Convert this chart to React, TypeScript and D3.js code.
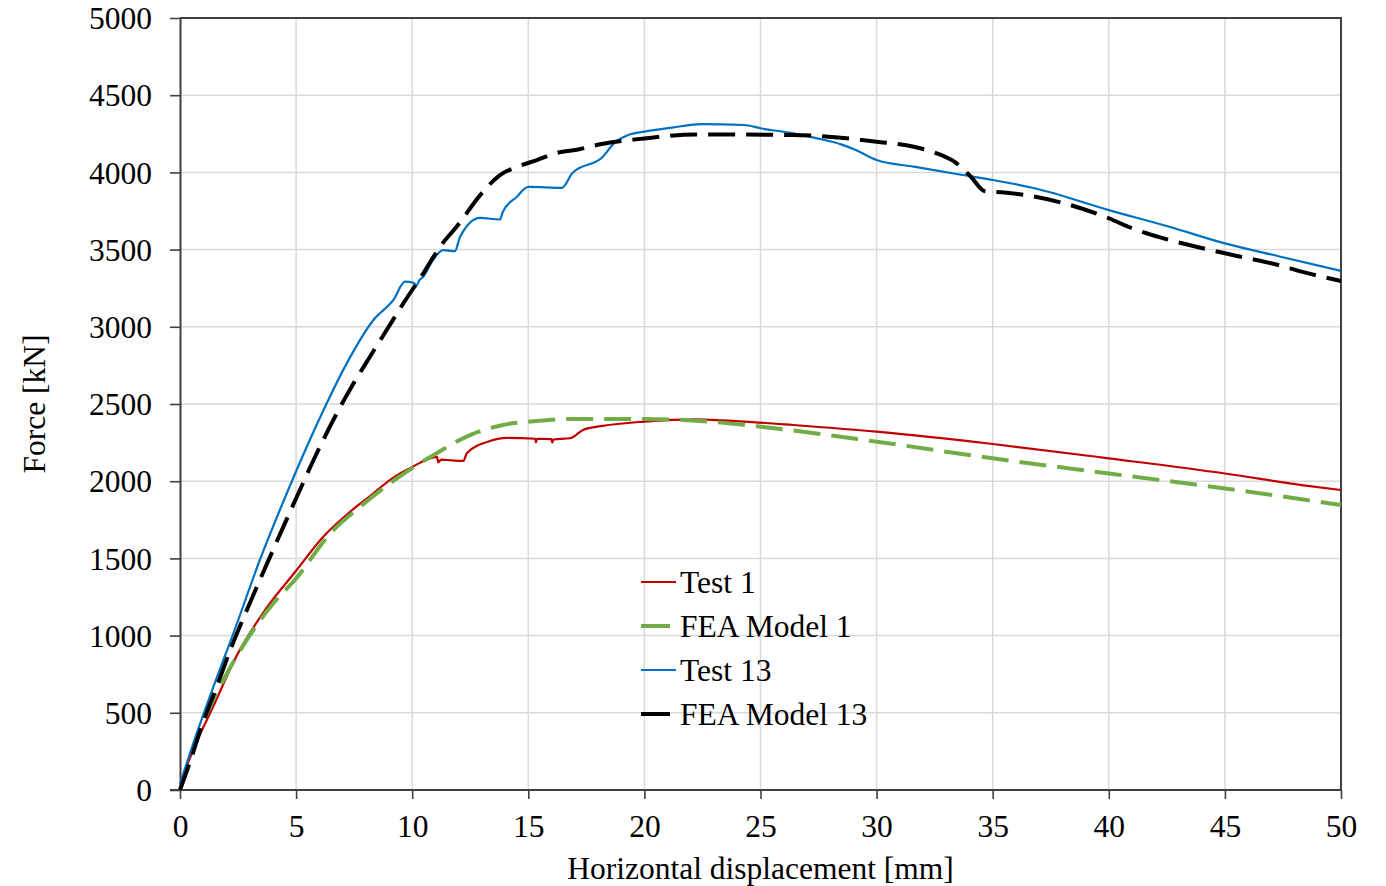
import { useEffect, useRef } from 'react';
import * as d3 from 'd3';

// Force vs horizontal displacement, tests vs FEA models
const TEST_1: [number, number][] = [
  [0, 0], [0.15, 90], [0.57, 259], [1.43, 540], [2.44, 870], [3.73, 1180], [5.0, 1420],
  [6.16, 1639], [7.32, 1801], [8.2, 1905], [9.17, 2021], [10.0, 2092], [11.07, 2157],
  [11.12, 2122], [11.25, 2140], [11.7, 2135], [12.2, 2131], [12.36, 2183], [13.35, 2260],
  [14.08, 2280], [15.3, 2275], [15.33, 2252], [15.38, 2275], [16.0, 2272], [16.03, 2250],
  [16.08, 2270], [16.8, 2278], [17.36, 2332], [18.2, 2358], [20.0, 2386], [22.2, 2401],
  [24.3, 2386], [26.4, 2364], [30, 2321], [35, 2241], [40, 2148], [45, 2050], [48.3, 1975],
  [50, 1943],
];

const FEA_1: [number, number][] = [
  [0, 0], [0.14, 65], [0.86, 389], [1.72, 669], [2.87, 971], [4.02, 1209], [5.0, 1370],
  [6.46, 1660], [7.75, 1833], [9.17, 2000], [10.0, 2085], [11.07, 2183], [12.49, 2299],
  [13.9, 2364], [15.37, 2390], [16.8, 2403], [20, 2403], [22.2, 2392], [25, 2353],
  [30, 2256], [35, 2148], [40, 2050], [45, 1953], [50, 1846],
];

const TEST_13: [number, number][] = [
  [0, 40], [0.72, 367], [1.44, 669], [2.3, 1015], [3.44, 1490], [4.6, 1922], [5.46, 2223],
  [6.32, 2505], [7.18, 2763], [8.33, 3044], [9.19, 3174], [9.69, 3292], [10.05, 3285],
  [10.2, 3270], [10.3, 3300], [10.48, 3325], [10.9, 3433], [11.33, 3497], [11.84, 3490],
  [12.06, 3582], [12.92, 3705], [13.78, 3695], [13.9, 3744], [14.5, 3841], [15.0, 3906],
  [16.45, 3900], [16.9, 3996], [18.2, 4100], [18.7, 4190], [19.3, 4242], [20, 4264],
  [21.2, 4290], [22.45, 4313], [24.3, 4307], [25, 4286], [26.4, 4253], [27.4, 4222],
  [28.5, 4180], [29.1, 4145], [30, 4080], [31.6, 4037], [33.7, 3983], [35, 3951],
  [36.8, 3897], [40, 3756], [42.6, 3648], [45, 3540], [47.4, 3454], [50, 3362],
];

const FEA_13: [number, number][] = [
  [0, 0], [0.36, 151], [0.93, 410], [1.58, 669], [2.22, 928], [2.94, 1187], [3.66, 1436],
  [5.1, 1922], [5.89, 2181], [6.6, 2396], [7.39, 2612], [8.18, 2806], [8.9, 2979],
  [9.62, 3152], [10.48, 3347], [11.2, 3519], [11.9, 3646], [13.0, 3866], [13.78, 3983],
  [14.5, 4035], [15.37, 4080], [16.2, 4125], [17.2, 4150], [18.1, 4182], [20, 4220],
  [22.2, 4246], [26.4, 4242], [30, 4199], [31.6, 4166], [32.6, 4123], [33.45, 4059],
  [34.06, 3972], [34.67, 3878], [35.5, 3870], [40, 3703], [41, 3638], [42.1, 3584],
  [45, 3476], [47.3, 3400], [48.3, 3357], [50, 3297],
];

const X_TICKS = d3.range(0, 51, 5);
const Y_TICKS = d3.range(0, 5001, 500);

const SERIES = [
  { name: 'Test 1', data: TEST_1, color: '#c00000', width: 2.2, dash: null, len: 35 },
  { name: 'FEA Model 1', data: FEA_1, color: '#70ad47', width: 4, dash: '27,11', len: 29 },
  { name: 'Test 13', data: TEST_13, color: '#0070c0', width: 2.2, dash: null, len: 35 },
  { name: 'FEA Model 13', data: FEA_13, color: '#000000', width: 4, dash: '27,11', len: 29 },
];

const FONT = '"Liberation Serif", "Times New Roman", serif';
const FS = 31.5;

export default function App() {
  const svgRef = useRef<SVGSVGElement>(null);

  useEffect(() => {
    if (!svgRef.current) return;
    const svg = d3.select(svgRef.current);
    svg.selectAll('*').remove();

    const left = 180, right = 1341, top = 18, bottom = 790;
    const x = d3.scaleLinear().domain([0, 50]).range([left, right]);
    const y = d3.scaleLinear().domain([0, 5000]).range([bottom, top]);

    // grid
    svg.append('g').selectAll('line').data(X_TICKS.slice(1)).join('line')
      .attr('x1', d => x(d)).attr('x2', d => x(d)).attr('y1', top).attr('y2', bottom)
      .attr('stroke', '#d9d9d9').attr('stroke-width', 1.5);
    svg.append('g').selectAll('line').data(Y_TICKS.slice(1)).join('line')
      .attr('x1', left).attr('x2', right).attr('y1', d => y(d)).attr('y2', d => y(d))
      .attr('stroke', '#d9d9d9').attr('stroke-width', 1.5);

    // axes
    const xAxis = svg.append('g').attr('transform', `translate(0,${bottom})`)
      .call(d3.axisBottom(x).tickValues(X_TICKS).tickFormat(d3.format('d')).tickSize(9).tickPadding(16).tickSizeOuter(0));
    const yAxis = svg.append('g').attr('transform', `translate(${left},0)`)
      .call(d3.axisLeft(y).tickValues(Y_TICKS).tickFormat(d3.format('d')).tickSize(10).tickPadding(18).tickSizeOuter(0));
    [xAxis, yAxis].forEach(a => {
      a.select('.domain').attr('stroke', '#404040').attr('stroke-width', 2);
      a.selectAll('.tick line').attr('stroke', '#404040').attr('stroke-width', 1.6);
      a.selectAll('.tick text').attr('fill', '#000').attr('font-size', FS).attr('font-family', FONT);
    });
    xAxis.select('.domain').attr('d', `M${left - 10},0H${right}`);
    yAxis.selectAll('.tick text').attr('dy', '0.34em');

    // frame top / right
    svg.append('path')
      .attr('d', `M${left},${top}H${right}V${bottom}`)
      .attr('fill', 'none').attr('stroke', '#404040').attr('stroke-width', 2);

    // lines
    const line = d3.line<[number, number]>()
      .x(d => x(d[0])).y(d => y(d[1]))
      .curve(d3.curveMonotoneX);
    SERIES.forEach(s => {
      svg.append('path').datum(s.data)
        .attr('d', line)
        .attr('fill', 'none')
        .attr('stroke', s.color)
        .attr('stroke-width', s.width)
        .attr('stroke-dasharray', s.dash)
        .attr('stroke-linejoin', 'round');
    });

    // legend
    const lg = svg.append('g').attr('transform', 'translate(641,582)');
    SERIES.forEach((s, i) => {
      const row = lg.append('g').attr('transform', `translate(0,${i * 44})`);
      row.append('line').attr('x1', 0).attr('x2', s.len).attr('y1', 0).attr('y2', 0)
        .attr('stroke', s.color).attr('stroke-width', s.width);
      row.append('text').attr('x', 39).attr('y', 10.5)
        .attr('font-size', FS).attr('font-family', FONT).attr('fill', '#000')
        .text(s.name);
    });

    // axis titles
    svg.append('text')
      .attr('x', (left + right) / 2).attr('y', 879)
      .attr('text-anchor', 'middle')
      .attr('font-size', FS).attr('font-family', FONT)
      .text('Horizontal displacement [mm]');
    svg.append('text')
      .attr('transform', `translate(45,${(top + bottom) / 2}) rotate(-90)`)
      .attr('text-anchor', 'middle')
      .attr('font-size', FS).attr('font-family', FONT)
      .text('Force [kN]');
  }, []);

  return (
    <svg ref={svgRef} width={1386} height={886}
      style={{ position: 'absolute', left: 0, top: 0, background: '#fff' }} />
  );
}
